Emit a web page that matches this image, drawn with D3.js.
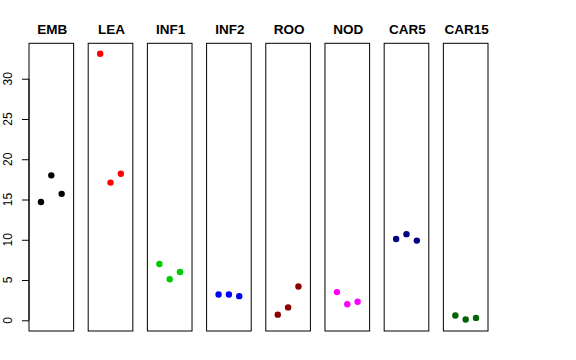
<!DOCTYPE html>
<html>
<head>
<meta charset="utf-8">
<script src="https://cdn.jsdelivr.net/npm/d3@7"></script>
<style>
  body { margin: 0; background: #fff; }
  text { font-family: "Liberation Sans", Arial, sans-serif; }
</style>
</head>
<body>
<div id="chart"></div>
<script>
// panel names, colours and the three values per panel
const groups = ["EMB", "LEA", "INF1", "INF2", "ROO", "NOD", "CAR5", "CAR15"];
const colors = ["#000000", "#ff0000", "#00cd00", "#0000ff", "#8b0000", "#ff00ff", "#000080", "#006400"];
const rep1 = [14.7, 33.1, 7.0, 3.2, 0.7, 3.5, 10.1, 0.6];
const rep2 = [18.0, 17.1, 5.1, 3.2, 1.6, 2.0, 10.7, 0.1];
const rep3 = [15.7, 18.2, 6.0, 3.0, 4.2, 2.3, 9.9, 0.3];
const yTicks = [0, 5, 10, 15, 20, 25, 30];

const W = 576, H = 360;
const plotTop = 43.3, plotBottom = 331;

const svg = d3.select("#chart").append("svg")
    .attr("width", W)
    .attr("height", H);

const xBand = d3.scaleBand()
    .domain(groups)
    .range([29, 488])
    .paddingInner(0.246);

// inner x: points at 1,2,3 on a 0..4 range, R style 4% padding
const xInner = d3.scaleLinear()
    .domain([-0.16, 4.16])
    .range([0, xBand.bandwidth()]);

const y = d3.scaleLinear()
    .domain([-1.33, 34.4])
    .range([plotBottom, plotTop]);

// y axis on the first panel
const yAxisG = svg.append("g")
    .attr("transform", "translate(" + xBand(groups[0]) + ",0)");
yAxisG.call(d3.axisLeft(y).tickValues(yTicks).tickSize(7).tickFormat(""))
    .call(g => g.select(".domain").remove());
yAxisG.append("line")
    .attr("x1", 0).attr("x2", 0)
    .attr("y1", y(0)).attr("y2", y(30))
    .attr("stroke", "#000");
yAxisG.selectAll(".tick line").attr("stroke", "#000");

svg.selectAll(".yLab")
    .data(yTicks)
    .join("text")
    .attr("class", "yLab")
    .attr("transform", d => "translate(12," + y(d) + ") rotate(-90)")
    .attr("text-anchor", "middle")
    .attr("font-size", 12)
    .text(d => d);

const panels = svg.selectAll(".panel")
    .data(groups)
    .join("g")
    .attr("class", "panel")
    .attr("transform", d => "translate(" + xBand(d) + ",0)");

panels.append("rect")
    .attr("x", 0)
    .attr("y", plotTop)
    .attr("width", xBand.bandwidth())
    .attr("height", plotBottom - plotTop)
    .attr("fill", "none")
    .attr("stroke", "#000")
    .attr("stroke-width", 1);

panels.append("text")
    .attr("x", xBand.bandwidth() / 2 + 1)
    .attr("y", 34)
    .attr("text-anchor", "middle")
    .attr("font-size", 13.5)
    .attr("font-weight", "bold")
    .text(d => d);

panels.each(function (g, i) {
    const vals = [rep1[i], rep2[i], rep3[i]];
    d3.select(this).selectAll("circle")
        .data(vals)
        .join("circle")
        .attr("cx", (d, j) => xInner(j + 1))
        .attr("cy", d => y(d))
        .attr("r", 3.2)
        .attr("fill", colors[i]);
});
</script>
</body>
</html>
